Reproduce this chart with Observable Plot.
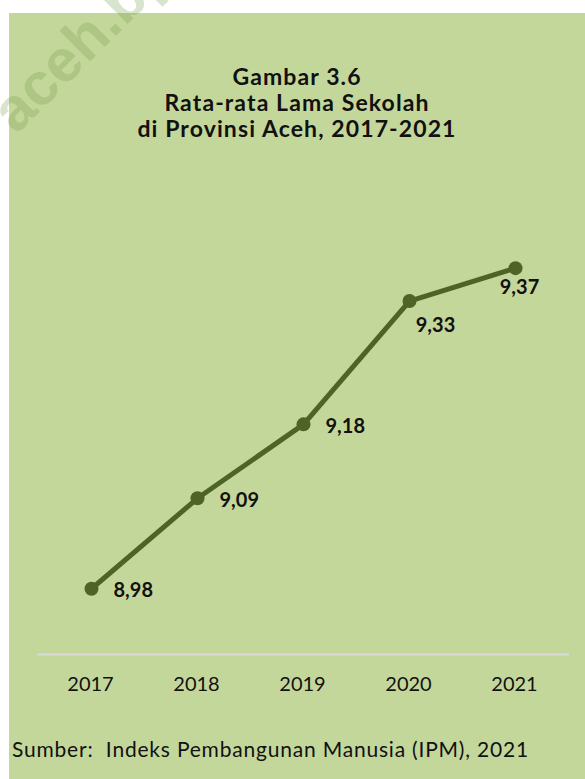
<!DOCTYPE html>
<html>
<head>
<meta charset="utf-8">
<script src="https://cdn.jsdelivr.net/npm/d3@7"></script>
<script src="https://cdn.jsdelivr.net/npm/@observablehq/plot@0.6"></script>
<style>
  html, body { margin: 0; padding: 0; }
  body { width: 585px; height: 779px; position: relative; overflow: hidden; background: #ffffff; font-family: Lato, "Open Sans", sans-serif; }
  #panel { position: absolute; left: 9px; top: 13px; right: 0; bottom: 0; background: #c4d79b; }
  #mark { position: absolute; left: -19px; top: 100px; transform-origin: 0 0; transform: rotate(-45deg);
          font: bold 60px/1 "Liberation Sans", Arial, sans-serif; color: rgba(110,150,60,0.26); white-space: nowrap; }
  #title { position: absolute; left: 9px; width: 576px; top: 63px; text-align: center;
           font-weight: bold; font-size: 23px; line-height: 26px; letter-spacing: 1.1px; color: #111; }
  #chart { position: absolute; left: 0; top: 200px; }
  #caption { position: absolute; left: 12px; top: 736px; font-size: 21px; letter-spacing: 0.8px; color: #111; white-space: nowrap; }
</style>
</head>
<body>
<div id="panel"></div>
<div id="mark">aceh.bps.go.id</div>
<div id="title">Gambar 3.6<br>Rata-rata Lama Sekolah<br>di Provinsi Aceh, 2017-2021</div>
<div id="chart"></div>
<div id="caption">Sumber:&nbsp; Indeks Pembangunan Manusia (IPM), 2021</div>
<script>
// Rata-rata lama sekolah (tahun), Provinsi Aceh
const years = ["2017", "2018", "2019", "2020", "2021"];
const values = [8.98, 9.09, 9.18, 9.33, 9.37];
const yDomain = [8.9, 9.4];

const data = years.map((year, i) => ({year, value: values[i], i}));
const fmt = v => v.toFixed(2).replace(".", ",");
const green = "#4f6228";

const chart = Plot.plot({
  width: 585,
  height: 510,
  marginLeft: 37,
  marginRight: 16,
  marginTop: 43,
  marginBottom: 56,
  style: {fontFamily: "Lato, 'Open Sans', sans-serif", fontSize: "20px", color: "#111", background: "transparent", overflow: "visible"},
  x: {type: "point", domain: years, padding: 0.5},
  y: {domain: yDomain, axis: null},
  marks: [
    Plot.ruleY([yDomain[0]], {stroke: "#d9d9d9", strokeWidth: 2}),
    Plot.axisX({tickSize: 0, tickPadding: 22, label: null, fontSize: 20, dx: -1}),
    Plot.line(data, {x: "year", y: "value", stroke: green, strokeWidth: 5}),
    Plot.dot(data, {x: "year", y: "value", r: 7, fill: green}),
    Plot.text(data.filter(d => d.i < 3), {x: "year", y: "value", text: d => fmt(d.value),
      textAnchor: "start", dx: 22, dy: 2, fontWeight: "bold", fontSize: 20, fill: "#111"}),
    Plot.text(data.filter(d => d.i === 3), {x: "year", y: "value", text: d => fmt(d.value),
      textAnchor: "middle", dx: 26, dy: 25, fontWeight: "bold", fontSize: 20, fill: "#111"}),
    Plot.text(data.filter(d => d.i === 4), {x: "year", y: "value", text: d => fmt(d.value),
      textAnchor: "middle", dx: 4, dy: 19, fontWeight: "bold", fontSize: 20, fill: "#111"})
  ]
});
document.getElementById("chart").appendChild(chart);
</script>
</body>
</html>
